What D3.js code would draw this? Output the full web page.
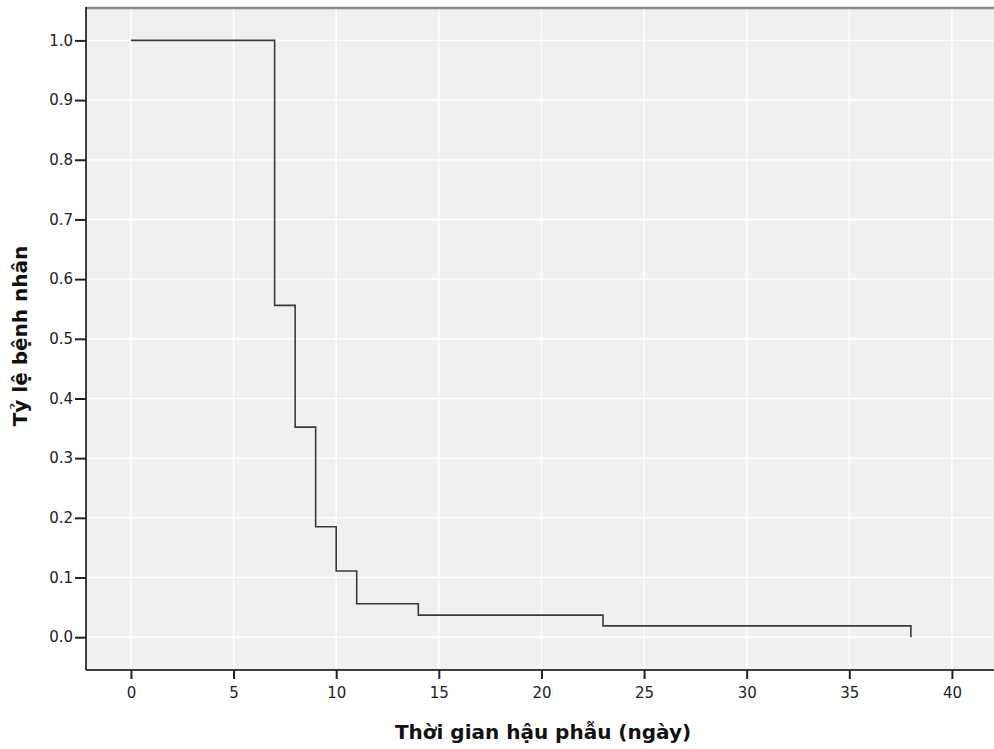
<!DOCTYPE html>
<html>
<head>
<meta charset="utf-8">
<script src="https://cdn.jsdelivr.net/npm/d3@7"></script>
<style>
  body { margin: 0; background: #fff; }
  svg { display: block; }
</style>
</head>
<body>
<div id="chart"></div>
<script>
// survival steps (Kaplan-Meier style)
const times = [0, 7, 8, 9, 10, 11, 14, 23, 38]
const survival = [1.0, 0.556, 0.352, 0.185, 0.111, 0.056, 0.037, 0.019, 0.0]

const xTicks = [0, 5, 10, 15, 20, 25, 30, 35, 40]
const yTicks = [0.0, 0.1, 0.2, 0.3, 0.4, 0.5, 0.6, 0.7, 0.8, 0.9, 1.0]

const xTitle = "Thời gian hậu phẫu (ngày)"
const yTitle = "Tỷ lệ bệnh nhân"

const width = 994, height = 749
const margin = {top: 7, right: 0, bottom: 79, left: 86}

const svg = d3.select("#chart").append("svg")
  .attr("width", width)
  .attr("height", height)

const x = d3.scaleLinear()
  .domain([-2.19, 42.05])
  .range([margin.left, width - margin.right])

const y = d3.scaleLinear()
  .domain([-0.055, 1.056])
  .range([height - margin.bottom, margin.top])

// ====== background + grid ======
svg.append("rect")
  .attr("x", margin.left).attr("y", margin.top)
  .attr("width", width - margin.left - margin.right)
  .attr("height", height - margin.top - margin.bottom)
  .attr("fill", "#f0f0f0")

const grid = svg.append("g").attr("stroke", "#ffffff").attr("stroke-width", 1.5)
grid.selectAll(".gx").data(xTicks).join("line")
  .attr("x1", d => x(d)).attr("x2", d => x(d))
  .attr("y1", margin.top).attr("y2", height - margin.bottom)
grid.selectAll(".gy").data(yTicks).join("line")
  .attr("y1", d => y(d)).attr("y2", d => y(d))
  .attr("x1", margin.left).attr("x2", width - margin.right)

// top border
svg.append("line")
  .attr("x1", margin.left).attr("x2", width)
  .attr("y1", margin.top + 1).attr("y2", margin.top + 1)
  .attr("stroke", "#8a8a8a").attr("stroke-width", 2.5)

// ====== step line ======
const pts = times.map((t, i) => [t, survival[i]])
const line = d3.line()
  .x(d => x(d[0])).y(d => y(d[1]))
  .curve(d3.curveStepAfter)

svg.append("path")
  .datum(pts)
  .attr("fill", "none")
  .attr("stroke", "#3a3a3a")
  .attr("stroke-width", 1.6)
  .attr("d", line)

// ====== axes ======
const font = "'DejaVu Sans', Verdana, sans-serif"

const xAxis = svg.append("g")
  .attr("transform", `translate(0,${height - margin.bottom})`)
  .call(d3.axisBottom(x).tickValues(xTicks).tickSize(9).tickPadding(8).tickFormat(d3.format("d")))
xAxis.select(".domain").attr("d", `M${margin.left},0H${width}`).attr("stroke", "#000").attr("stroke-width", 1.5)

const yAxis = svg.append("g")
  .attr("transform", `translate(${margin.left},0)`)
  .call(d3.axisLeft(y).tickValues(yTicks).tickSize(11).tickPadding(2).tickFormat(d3.format(".1f")))
yAxis.select(".domain").attr("d", `M0,${margin.top}V${height - margin.bottom}`).attr("stroke", "#000").attr("stroke-width", 1.5)

svg.selectAll(".tick line").attr("stroke", "#222").attr("stroke-width", 2)
svg.selectAll(".tick text")
  .attr("fill", "#222")
  .style("font-family", font)
  .style("font-size", "15px")

// titles
svg.append("text")
  .attr("x", 543).attr("y", 739)
  .attr("text-anchor", "middle")
  .style("font-family", font)
  .style("font-size", "20px")
  .style("font-weight", "bold")
  .attr("fill", "#111")
  .text(xTitle)

svg.append("text")
  .attr("transform", "translate(27,336) rotate(-90)")
  .attr("text-anchor", "middle")
  .style("font-family", font)
  .style("font-size", "20px")
  .style("font-weight", "bold")
  .attr("fill", "#111")
  .text(yTitle)
</script>
</body>
</html>
